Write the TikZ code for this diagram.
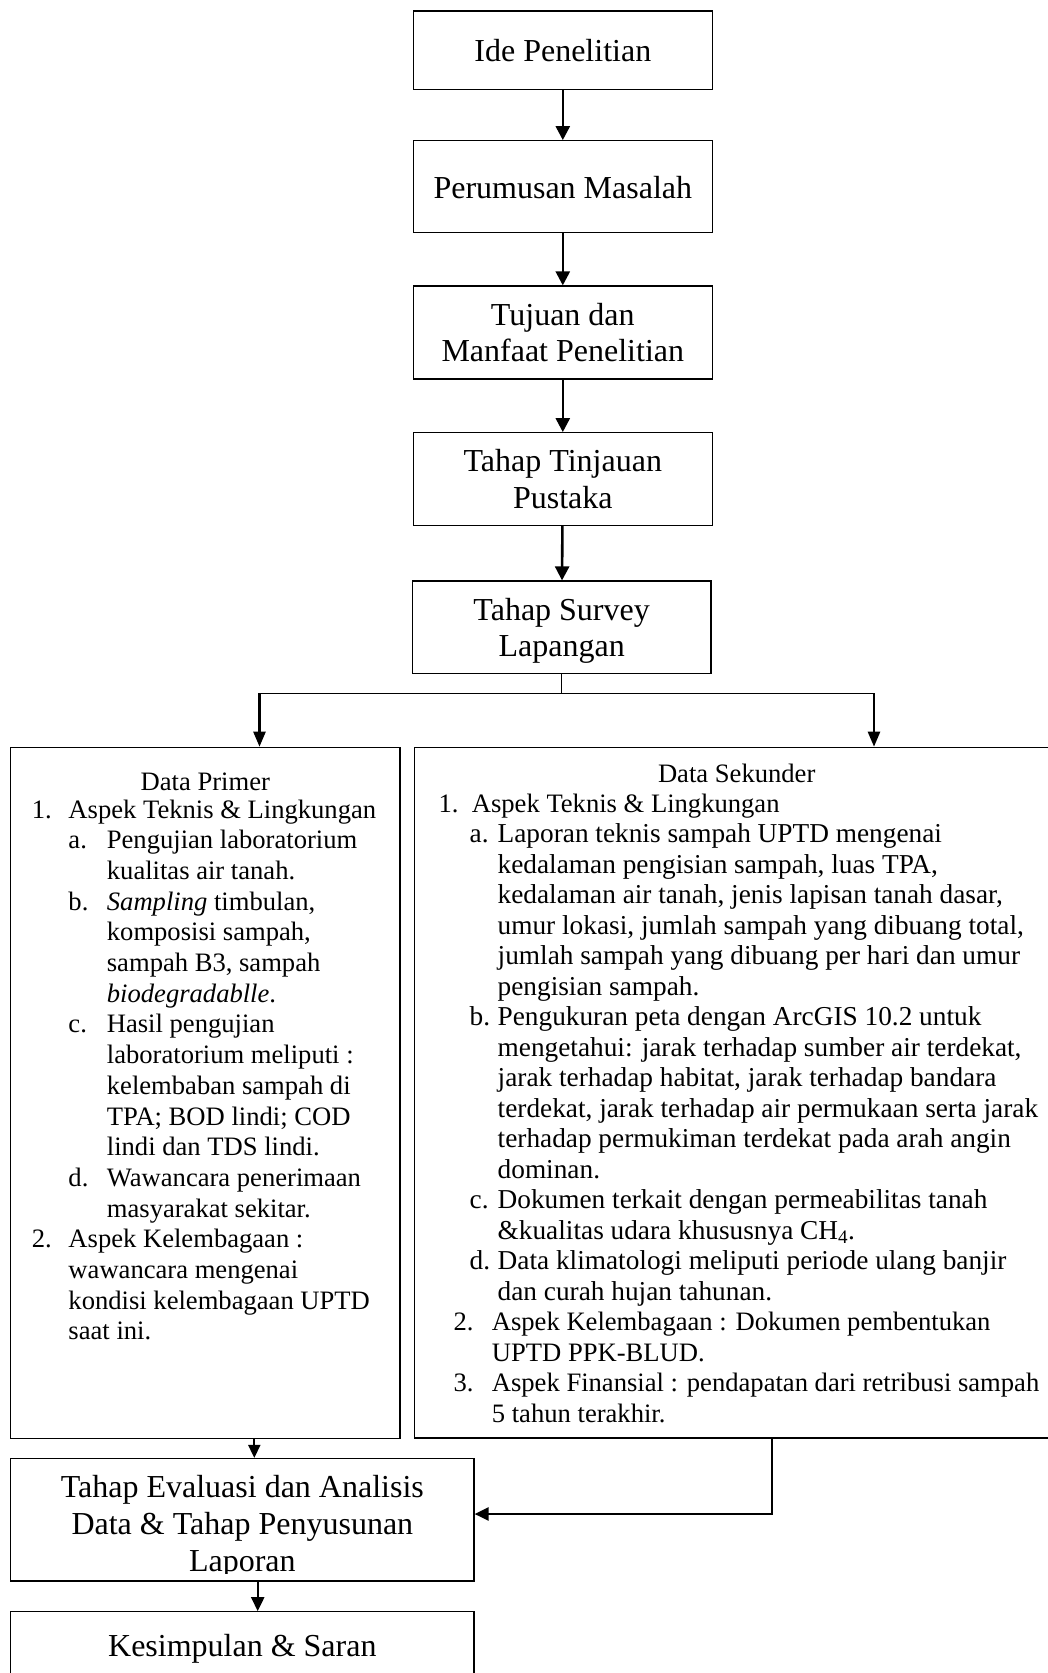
\documentclass[tikz,border=0pt]{standalone}
\usepackage{fontspec}
\setmainfont{Liberation Serif}
\usetikzlibrary{arrows.meta}

% text sizes
\newcommand\bigtxt{\fontsize{32}{36.7}\selectfont}
\newcommand\lsz{\fontsize{26.6}{30.7}\selectfont}
\newcommand\rsz{\fontsize{27.3}{30.5}\selectfont}
% list rows: indent, label width, label, text
\newcommand\Lrow[4]{\hbox{\kern#1pt\makebox[#2pt][l]{#3}#4}}
\newcommand\Lcont[2]{\hbox{\kern#1pt #2}}
\newcommand\Srow[4]{\hbox{\rsz\kern#1pt\makebox[#2pt][l]{#3}#4}}
\newcommand\Scont[2]{\hbox{\rsz\kern#1pt #2}}
% centred multi-line text with first baseline as reference
\newcommand\ctext[2]{\vtop{\baselineskip=#1\lineskiplimit=-100pt\lineskip=0pt\halign{\hfil##\hfil\cr#2\cr}}}

\begin{document}
\begin{tikzpicture}[x=1pt,y=-1pt,
  box/.style={draw,line width=1.2pt,inner sep=0pt},
  txt/.style={inner sep=0pt,anchor=base},
  flow/.style={line width=2.6pt,-{Triangle[length=14pt,width=14pt]}},
  thinflow/.style={line width=2pt,-{Triangle[length=13pt,width=12pt]}},
  link/.style={line width=1.1pt}]
\useasboundingbox (0,0) rectangle (1048,1673);

% main column boxes
\node[box,minimum width=299pt,minimum height=78.3pt] (b1) at (562.8,50.15) {};
\node[box,minimum width=299pt,minimum height=91.6pt] (b2) at (562.8,186.5) {};
\node[box,minimum width=299pt,minimum height=93pt] (b3) at (562.8,332.5) {};
\node[box,minimum width=299pt,minimum height=92.6pt] (b4) at (562.8,479) {};
\node[box,minimum width=298.7pt,minimum height=92.3pt] (b5) at (561.65,627.15) {};

\node[txt,font=\bigtxt] (t1) at (562.8,61.7) {Ide Penelitian};
\node[txt,font=\bigtxt] (t2) at (562.8,198.3) {Perumusan Masalah};
\node[txt,font=\bigtxt] (t3) at (562.8,325) {\ctext{36.7pt}{Tujuan dan\cr Manfaat Penelitian}};
\node[txt,font=\bigtxt] (t4) at (562.8,471.7) {\ctext{36.7pt}{Tahap Tinjauan\cr Pustaka}};
\node[txt,font=\bigtxt] (t5) at (561.65,620) {\ctext{36.7pt}{Tahap Survey\cr Lapangan}};

\draw[flow] (b1) -- (b2);
\draw[flow] (b2) -- (b3);
\draw[flow] (b3) -- (b4);
\draw[flow] (b4) -- (b5);

% data boxes
\node[box,minimum width=389.3pt,minimum height=691.4pt] (prim) at (205.35,1093) {};
\node[box,minimum width=644.5pt,minimum height=690.7pt] (sek) at (736.75,1092.65) {};

% split below the survey step
\coordinate (hl) at (259.5,693.3);
\coordinate (hr) at (874,693.3);
\draw[link] (b5.south) -- (b5.south |- hl);
\draw[line width=1.6pt] (hl) -- (hr);
\draw[line width=2.4pt,-{Triangle[length=15pt,width=12pt]}] (hl) -- (hl |- prim.north);
\draw[line width=2.4pt,-{Triangle[length=15pt,width=12pt]}] (hr) -- (hr |- sek.north);

% primary data
\node[txt,font=\lsz] (pt) at (205.35,790) {Data Primer};
\node[inner sep=0pt,anchor=base west,font=\lsz] (pl) at (31.7,818) {\vtop{\baselineskip=30.7pt\lineskiplimit=-100pt\lineskip=0pt
\Lrow{0}{36.6}{1.}{Aspek Teknis \& Lingkungan}
\Lrow{36.6}{38.4}{a.}{Pengujian laboratorium}
\Lcont{75}{kualitas air tanah.}
\Lrow{36.6}{38.4}{b.}{\textit{Sampling} timbulan,}
\Lcont{75}{komposisi sampah,}
\Lcont{75}{sampah B3, sampah}
\Lcont{75}{\textit{biodegradablle}.}
\Lrow{36.6}{38.4}{c.}{Hasil pengujian}
\Lcont{75}{laboratorium meliputi :}
\Lcont{75}{kelembaban sampah di}
\Lcont{75}{TPA; BOD lindi; COD}
\Lcont{75}{lindi dan TDS lindi.}
\Lrow{36.6}{38.4}{d.}{Wawancara penerimaan}
\Lcont{75}{masyarakat sekitar.}
\Lrow{0}{36.6}{2.}{Aspek Kelembagaan :}
\Lcont{36.6}{wawancara mengenai}
\Lcont{36.6}{kondisi kelembagaan UPTD}
\Lcont{36.6}{saat ini.}}};

% secondary data
\node[txt,font=\lsz] (st) at (736.7,782) {Data Sekunder};
\node[inner sep=0pt,anchor=base west,font=\lsz] (sl) at (438.3,812) {\vtop{\baselineskip=30.5pt\lineskiplimit=-100pt\lineskip=0pt
\Lrow{0}{33.4}{1.}{Aspek Teknis \& Lingkungan}
\Srow{31.2}{28}{a.}{Laporan teknis sampah UPTD mengenai}
\Scont{59.2}{kedalaman pengisian sampah, luas TPA,}
\Scont{59.2}{kedalaman air tanah, jenis lapisan tanah dasar,}
\Scont{59.2}{umur lokasi, jumlah sampah yang dibuang total,}
\Scont{59.2}{jumlah sampah yang dibuang per hari dan umur}
\Scont{59.2}{pengisian sampah.}
\Srow{31.2}{28}{b.}{Pengukuran peta dengan ArcGIS 10.2 untuk}
\Scont{59.2}{mengetahui: jarak terhadap sumber air terdekat,}
\Scont{59.2}{jarak terhadap habitat, jarak terhadap bandara}
\Scont{59.2}{terdekat, jarak terhadap air permukaan serta jarak}
\Scont{59.2}{terhadap permukiman terdekat pada arah angin}
\Scont{59.2}{dominan.}
\Srow{31.2}{28}{c.}{Dokumen terkait dengan permeabilitas tanah}
\Scont{59.2}{\&kualitas udara khususnya CH\textsubscript{4}.}
\Srow{31.2}{28}{d.}{Data klimatologi meliputi periode ulang banjir}
\Scont{59.2}{dan curah hujan tahunan.}
\Lrow{15}{38.4}{2.}{Aspek Kelembagaan : Dokumen pembentukan}
\Lcont{53.4}{UPTD PPK-BLUD.}
\Lrow{15}{38.4}{3.}{Aspek Finansial : pendapatan dari retribusi sampah}
\Lcont{53.4}{5 tahun terakhir.}}};

% evaluation and conclusion
\node[box,minimum width=463.3pt,minimum height=122.5pt] (eval) at (242.35,1519.75) {};
\node[box,minimum width=463.3pt,minimum height=88.3pt] (kes) at (242.35,1655.85) {};
\begin{scope}
% the text area stops short of the frame, cutting the last line's descenders
\clip (eval.north west) rectangle (eval.east |- 0,1573);
\node[txt,font=\bigtxt] (te) at (242.35,1497.3) {\ctext{37pt}{Tahap Evaluasi dan Analisis\cr Data \& Tahap Penyusunan\cr Laporan}};
\end{scope}
\node[txt,font=\bigtxt] (tk) at (242.35,1656.7) {Kesimpulan \& Saran};

\coordinate (pe) at (254.3,1438.7);
\draw[thinflow] (pe) -- (pe |- eval.north);
\coordinate (ek) at (257.7,1581);
\draw[line width=2.4pt,-{Triangle[length=14pt,width=13pt]}] (ek) -- (ek |- kes.north);
\coordinate (sk) at (772,1438);
\coordinate (skb) at (772,1514);
\draw[line width=2.6pt,-{Triangle[length=14pt,width=13pt]}] (sk) -- (skb) -- (eval.east |- skb);
\end{tikzpicture}
\end{document}
